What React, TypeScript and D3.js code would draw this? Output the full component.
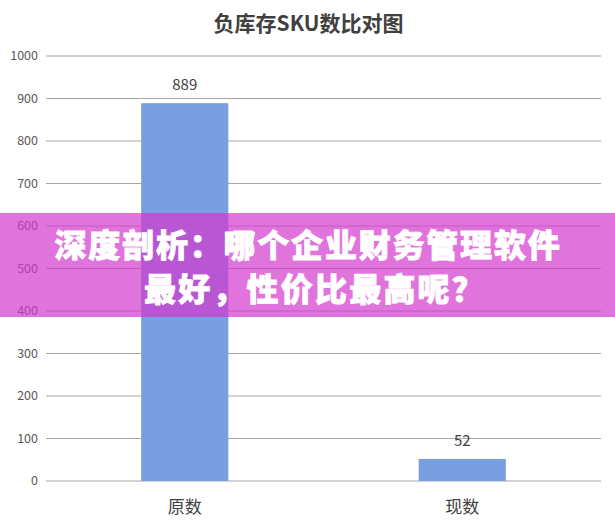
import { useMemo } from "react";
import { scaleBand, scaleLinear } from "d3";

const W = 615;
const H = 530;
const M = { top: 56, right: 14, bottom: 49, left: 46 };

const title = "负库存SKU数比对图";
const categories = ["原数", "现数"];
const values = [889, 52];
const yTicks = [0, 100, 200, 300, 400, 500, 600, 700, 800, 900, 1000];
const bannerLines = ["深度剖析：哪个企业财务管理软件", "最好，性价比最高呢？"];

const FONT = "'Noto Sans CJK SC', 'Noto Sans', sans-serif";

export default function App() {
  const x = useMemo(
    () => scaleBand<string>().domain(categories).range([M.left, W - M.right]).padding(0),
    []
  );
  const y = useMemo(
    () => scaleLinear().domain([0, 1000]).range([H - M.bottom, M.top]),
    []
  );
  const barW = x.bandwidth() * 0.314;

  return (
    <svg
      width={W}
      height={H}
      viewBox={`0 0 ${W} ${H}`}
      style={{ position: "fixed", left: 0, top: 0, background: "#fff", fontFamily: FONT }}
    >
      <rect x={0} y={0} width={W} height={H} fill="#fff" />

      <text x={W / 2 + 1} y={31} textAnchor="middle" fontSize={21} fontWeight={700} fill="#404040">
        {title}
      </text>

      {/* grid + y labels */}
      {yTicks.map((t) => (
        <g key={t}>
          <line x1={M.left} x2={W - M.right} y1={y(t)} y2={y(t)} stroke="#a6a6a6" strokeWidth={1} />
          <text x={38} y={y(t)} dy="0.35em" textAnchor="end" fontSize={12.5} fill="#595959">
            {t}
          </text>
        </g>
      ))}

      {/* bars */}
      {categories.map((c, i) => {
        const cx = (x(c) ?? 0) + x.bandwidth() / 2;
        return (
          <g key={c}>
            <rect
              x={cx - barW / 2}
              y={y(values[i])}
              width={barW}
              height={y(0) - y(values[i])}
              fill="#7a9fe1"
            />
            <text x={cx} y={y(values[i]) - 13} textAnchor="middle" fontSize={15} fill="#404040">
              {values[i]}
            </text>
            <text x={cx} y={513} textAnchor="middle" fontSize={17} fill="#404040">
              {c}
            </text>
          </g>
        );
      })}

      {/* overlay banner */}
      <rect x={0} y={213} width={W} height={104} fill="rgba(212,55,207,0.7)" />
      {bannerLines.map((l, i) => (
        <text
          key={l}
          x={i === 0 ? 308 : 315}
          y={257 + i * 44}
          textAnchor="middle"
          fontSize={32}
          fontWeight={900}
          letterSpacing={i === 0 ? 1.8 : 2.2}
          fill="#fff"
          stroke="#fff"
          strokeWidth={0.8}
        >
          {l}
        </text>
      ))}
    </svg>
  );
}
